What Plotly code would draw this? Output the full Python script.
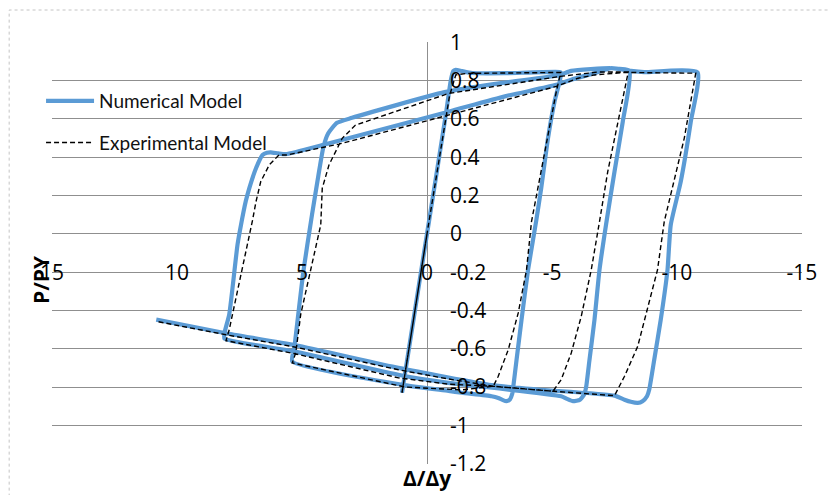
import plotly.graph_objects as go

# ---------------- data ----------------
num_x = [0.0, 1.0, 0.0, -0.75, -0.95, -1.05, -1.15, -1.4, -1.8, -3.1, -5.3,
         -5.37, -5.1, -4.84, -4.57, -4.37, -4.04, -3.78, -3.58, -3.45, -3.41, -3.32, -3.18, -3.0, -2.85, -2.58,
         -1.39, -0.86, 0.9, 5.39,
         5.3, 4.95, 4.6, 4.35, 4.15, 3.95, 3.6, 3.0, -0.7, -3.12, -5.31, -5.77, -7.36, -8.1,
         -7.83, -7.5, -7.16, -6.9, -6.7, -6.5, -6.37, -6.3, -6.12, -5.84, -5.6, -5.37,
         -0.86, 1.0, 5.32, 8.1,
         8.1, 7.91, 7.58, 7.44, 7.25, 7.11, 6.84, 6.58, 6.4, 6.25, 5.95, 5.65, 4.06, -0.86, -3.12,
         -5.17, -5.77, -6.7, -7.36, -8.16, -8.69, -10.82,
         -10.55, -10.15, -9.75, -9.62, -9.35, -9.09, -8.89, -8.8, -8.62, -8.43, -8.15, -7.9, -7.5,
         -4.44, -2.58, 1.14, 5.25, 8.1, 10.83]
num_y = [0.0, -0.83, 0.0, 0.62, 0.80, 0.85, 0.857, 0.85, 0.84, 0.839, 0.845,
         0.84, 0.69, 0.50, 0.24, 0.07, -0.19, -0.45, -0.66, -0.80, -0.835, -0.864, -0.874, -0.866, -0.857, -0.848,
         -0.83, -0.82, -0.79, -0.666,
         -0.59, -0.2, 0.1, 0.3, 0.45, 0.525, 0.58, 0.606, 0.74, 0.79, 0.83, 0.851, 0.865, 0.852,
         0.585, 0.325, 0.047, -0.188, -0.448, -0.657, -0.796, -0.835, -0.866, -0.874, -0.862, -0.848,
         -0.778, -0.74, -0.614, -0.547,
         -0.518, -0.42, -0.057, 0.047, 0.17, 0.238, 0.343, 0.412, 0.424, 0.426, 0.42, 0.416, 0.468, 0.638, 0.718,
         0.778, 0.805, 0.839, 0.865, 0.851, 0.845, 0.843,
         0.585, 0.273, 0.047, -0.188, -0.448, -0.657, -0.813, -0.848, -0.874, -0.883, -0.877, -0.866, -0.845,
         -0.813, -0.79, -0.70, -0.582, -0.518, -0.448]

exp_x = [0.0, 1.0, 0.0, -0.9, -1.15, -1.6, -5.35,
         -5.17, -4.84, -4.44, -4.18, -3.98, -3.65, -3.25, -2.85, -2.65,
         -1.39, 0.87, 5.39,
         5.25, 5.05, 4.25, 4.19, 3.92, 3.59, 3.39, 2.86, -0.86, -5.31, -6.83, -8.05,
         -7.63, -7.23, -6.9, -6.57, -6.17, -5.77, -5.37, -5.04,
         -2.65, -0.86, 1.14, 5.32, 8.04,
         7.91, 6.98, 6.84, 6.65, 6.31, 5.92, 5.59, 3.39, -0.86, -5.17, -6.04, -6.7, -7.9, -10.75,
         -10.29, -9.75, -9.49, -9.22, -8.82, -8.43, -7.9, -7.5,
         -5.04, -2.65, -0.86, 1.14, 5.25, 8.04, 10.83]
exp_y = [0.0, -0.83, 0.0, 0.72, 0.83, 0.838, 0.843,
         0.742, 0.516, 0.238, 0.064, -0.188, -0.413, -0.605, -0.744, -0.796,
         -0.815, -0.80, -0.674,
         -0.622, -0.42, 0.047, 0.238, 0.36, 0.447, 0.499, 0.568, 0.733, 0.822, 0.845, 0.845,
         0.585, 0.325, 0.064, -0.188, -0.431, -0.622, -0.761, -0.822,
         -0.796, -0.785, -0.752, -0.625, -0.558,
         -0.5, 0.07, 0.168, 0.273, 0.36, 0.412, 0.412, 0.473, 0.62, 0.77, 0.813, 0.83, 0.843, 0.839,
         0.499, 0.203, 0.064, -0.188, -0.396, -0.587, -0.744, -0.845,
         -0.822, -0.796, -0.758, -0.71, -0.592, -0.527, -0.457]

x_tick_vals = [15, 10, 5, 0, -5, -10, -15]
x_tick_text = ["15", "10", "5", "0", "-5", "-10", "-15"]
y_tick_vals = [1, 0.8, 0.6, 0.4, 0.2, 0, -0.2, -0.4, -0.6, -0.8, -1, -1.2]
y_tick_text = ["1", "0.8", "0.6", "0.4", "0.2", "0", "-0.2", "-0.4", "-0.6", "-0.8", "-1", "-1.2"]

series_names = ["Numerical Model", "Experimental Model"]

# ---------------- figure ----------------
W, H = 829, 495
ML, MR, MT, MB = 52, 24, 42, 31
PW, PH = W - ML - MR, H - MT - MB
Y0, Y1 = -1.2, 1.0


def px_to_paper_x(px):
    return (px - ML) / PW


def py_to_paper_y(py):
    return (H - MB - py) / PH


fig = go.Figure()
fig.add_trace(go.Scatter(
    x=num_x, y=num_y, mode="lines", name=series_names[0], legendgroup="a",
    line=dict(color="#5B9BD5", width=4.2), line_shape="spline",
    line_smoothing=0.5,
))
fig.add_trace(go.Scatter(
    x=exp_x, y=exp_y, mode="lines", name=series_names[1], legendgroup="b",
    line=dict(color="#000000", width=1.4, dash="5px,3px"),
))

grid_col = "#8f8f8f"
label_font = dict(family="Open Sans, DejaVu Sans, sans-serif", size=21, color="#000000")

fig.update_layout(
    width=W, height=H,
    margin=dict(l=ML, r=MR, t=MT, b=MB, pad=0),
    paper_bgcolor="white", plot_bgcolor="white",
    showlegend=True,
    legend=dict(
        x=px_to_paper_x(41), y=py_to_paper_y(82), xanchor="left", yanchor="top",
        bgcolor="rgba(255,255,255,0)", borderwidth=0,
        font=dict(family="Lato, Liberation Sans Narrow, sans-serif", size=19, color="#111111"),
        tracegroupgap=14, itemwidth=48, traceorder="grouped",
    ),
    xaxis=dict(
        range=[15, -15], showgrid=False, zeroline=True, zerolinecolor=grid_col,
        zerolinewidth=1.4, showline=False, ticks="",
        tickmode="array", tickvals=x_tick_vals, ticktext=x_tick_text,
        tickfont=label_font, anchor="free",
        position=(((234 - 258) / 191.8) - Y0) / (Y1 - Y0),
    ),
    yaxis=dict(
        range=[Y0 - 0.002, Y1 + 0.002], showgrid=True, gridcolor=grid_col, gridwidth=1.4,
        zeroline=False, showline=False, ticks="",
        tickmode="array", tickvals=y_tick_vals, ticktext=y_tick_text,
        tickfont=label_font, side="right", anchor="free", position=0.5,
        ticklabelstandoff=22,
    ),
    shapes=[
        dict(type="rect", xref="paper", yref="paper",
             x0=px_to_paper_x(9), x1=px_to_paper_x(840),
             y0=py_to_paper_y(505), y1=py_to_paper_y(10),
             line=dict(color="#c4c4c4", width=1, dash="dot"), layer="below"),
        # white legend background hiding the gridline behind the legend text
        dict(type="rect", xref="paper", yref="paper",
             x0=px_to_paper_x(44), x1=px_to_paper_x(252),
             y0=py_to_paper_y(152), y1=py_to_paper_y(86),
             fillcolor="white", line=dict(width=0), layer="between"),
    ],
    annotations=[
        dict(text="<b>Δ/Δy</b>", xref="paper", yref="paper",
             x=px_to_paper_x(428), y=py_to_paper_y(478), xanchor="center", yanchor="middle",
             showarrow=False, font=dict(family="Open Sans, DejaVu Sans, sans-serif", size=21, color="#000")),
        dict(text="<b>P/PY</b>", xref="paper", yref="paper", textangle=-90,
             x=px_to_paper_x(41), y=py_to_paper_y(280), xanchor="center", yanchor="middle",
             showarrow=False, font=dict(family="Open Sans, DejaVu Sans, sans-serif", size=21, color="#000")),
    ],
)

fig.write_html("out.html")
